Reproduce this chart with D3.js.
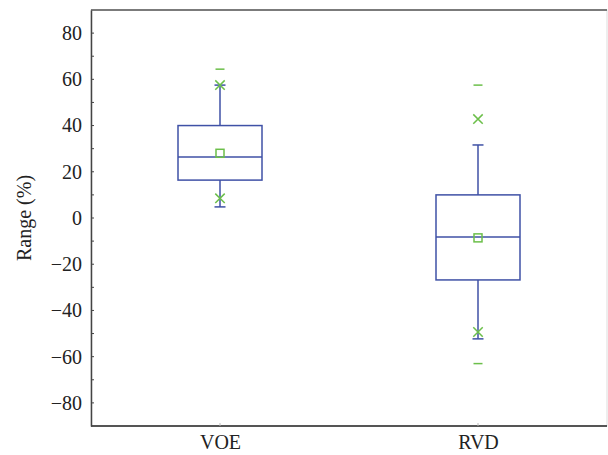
<!DOCTYPE html>
<html>
<head>
<meta charset="utf-8">
<script src="https://cdn.jsdelivr.net/npm/d3@7"></script>
<style>
  body { margin: 0; background: #fff; }
  text { font-family: "Liberation Serif", "DejaVu Serif", serif; }
</style>
</head>
<body>
<svg width="608" height="455"></svg>
<script>
// data
const groups = ["VOE", "RVD"];
const q1 = [16.4, -26.8];
const median = [26.4, -8.2];
const q3 = [40, 10];
const whiskerLo = [4.8, -52.3];
const whiskerHi = [57.5, 31.6];
const means = [28, -8.6];
const pctLo = [8.5, -49.3];   // x markers
const pctHi = [57.5, 42.8];
const minVal = [null, -63];   // dashes
const maxVal = [64.4, 57.5];
const yTicks = [-80, -60, -40, -20, 0, 20, 40, 60, 80];

const svg = d3.select("svg");
const margin = {top: 10, right: 1, bottom: 29, left: 91};
const width = 608 - margin.left - margin.right,
  height = 455 - margin.top - margin.bottom;

const blue = "#3f51a6", green = "#6cbf4a";

const g = svg.append("g").attr("transform", `translate(${margin.left},${margin.top})`);

const y = d3.scaleLinear().domain([-90, 90]).range([height, 0]);
const x = d3.scalePoint().domain(groups).range([0, width]).padding(0.5);

// frame
g.append("rect").attr("width", width).attr("height", height)
  .attr("fill", "none").attr("stroke", "#ddd").attr("stroke-width", 1);
g.append("line").attr("x1", 0).attr("x2", width).attr("y1", 0).attr("y2", 0)
  .attr("stroke", "#555").attr("stroke-width", 1.5);
g.append("line").attr("x1", 0).attr("x2", width).attr("y1", height).attr("y2", height)
  .attr("stroke", "#222").attr("stroke-width", 1.5);

// y axis, ticks inside
const yAxis = g.append("g")
  .call(d3.axisLeft(y).tickValues(yTicks).tickSize(0).tickPadding(9)
    .tickFormat(d => d < 0 ? "\u2212" + Math.abs(d) : d));
yAxis.select(".domain").attr("stroke", "#444").attr("stroke-width", 1.5);
yAxis.selectAll("text").attr("font-size", 20).attr("fill", "#222");
g.append("g").selectAll("line")
  .data(d3.range(-80, 81, 10))
  .join("line")
  .attr("x1", 0).attr("x2", 3)
  .attr("y1", d => y(d)).attr("y2", d => y(d))
  .attr("stroke", "#444");

// x axis labels
const xAxis = g.append("g").attr("transform", `translate(0,${height})`)
  .call(d3.axisBottom(x).tickSize(0).tickPadding(9));
xAxis.select(".domain").remove();
xAxis.selectAll("text").attr("font-size", 20).attr("fill", "#222");
g.append("g").selectAll("line").data(groups).join("line")
  .attr("x1", d => x(d)).attr("x2", d => x(d))
  .attr("y1", height).attr("y2", height - 3)
  .attr("stroke", "#bbb");

// y label
svg.append("text")
  .attr("transform", `translate(31,${margin.top + y(0)}) rotate(-90)`)
  .attr("text-anchor", "middle")
  .attr("font-size", 20).attr("fill", "#222")
  .text("Range (%)");

const boxW = 84;
const idx = groups.map((d, i) => i);
const bx = g.append("g");

// whiskers
bx.selectAll(".wl").data(idx).join("line")
  .attr("x1", i => x(groups[i])).attr("x2", i => x(groups[i]))
  .attr("y1", i => y(q3[i])).attr("y2", i => y(whiskerHi[i]))
  .attr("stroke", blue).attr("stroke-width", 1.5);
bx.selectAll(".wl2").data(idx).join("line")
  .attr("x1", i => x(groups[i])).attr("x2", i => x(groups[i]))
  .attr("y1", i => y(q1[i])).attr("y2", i => y(whiskerLo[i]))
  .attr("stroke", blue).attr("stroke-width", 1.5);
[whiskerHi, whiskerLo].forEach(arr => {
  bx.append("g").selectAll("line").data(idx).join("line")
    .attr("x1", i => x(groups[i]) - 5.5).attr("x2", i => x(groups[i]) + 5.5)
    .attr("y1", i => y(arr[i])).attr("y2", i => y(arr[i]))
    .attr("stroke", blue).attr("stroke-width", 1.5);
});

// boxes
bx.selectAll("rect").data(idx).join("rect")
  .attr("x", i => x(groups[i]) - boxW / 2)
  .attr("width", boxW)
  .attr("y", i => y(q3[i]))
  .attr("height", i => y(q1[i]) - y(q3[i]))
  .attr("fill", "none").attr("stroke", blue).attr("stroke-width", 1.5);
bx.append("g").selectAll("line").data(idx).join("line")
  .attr("x1", i => x(groups[i]) - boxW / 2).attr("x2", i => x(groups[i]) + boxW / 2)
  .attr("y1", i => y(median[i])).attr("y2", i => y(median[i]))
  .attr("stroke", blue).attr("stroke-width", 1.5);

// mean squares
bx.append("g").selectAll("rect").data(idx).join("rect")
  .attr("x", i => x(groups[i]) - 4).attr("y", i => y(means[i]) - 4)
  .attr("width", 8).attr("height", 8)
  .attr("fill", "none").attr("stroke", green).attr("stroke-width", 1.5);

// x markers
const cross = d3.symbol().type(d3.symbolX).size(60);
[pctHi, pctLo].forEach(arr => {
  bx.append("g").selectAll("path").data(idx).join("path")
    .attr("transform", i => `translate(${x(groups[i])},${y(arr[i])})`)
    .attr("d", cross)
    .attr("fill", "none").attr("stroke", green).attr("stroke-width", 1.5);
});

// min/max dashes
[maxVal, minVal].forEach(arr => {
  bx.append("g").selectAll("line").data(idx.filter(i => arr[i] != null)).join("line")
    .attr("x1", i => x(groups[i]) - 4.5).attr("x2", i => x(groups[i]) + 4.5)
    .attr("y1", i => y(arr[i])).attr("y2", i => y(arr[i]))
    .attr("stroke", green).attr("stroke-width", 1.5);
});
</script>
</body>
</html>
